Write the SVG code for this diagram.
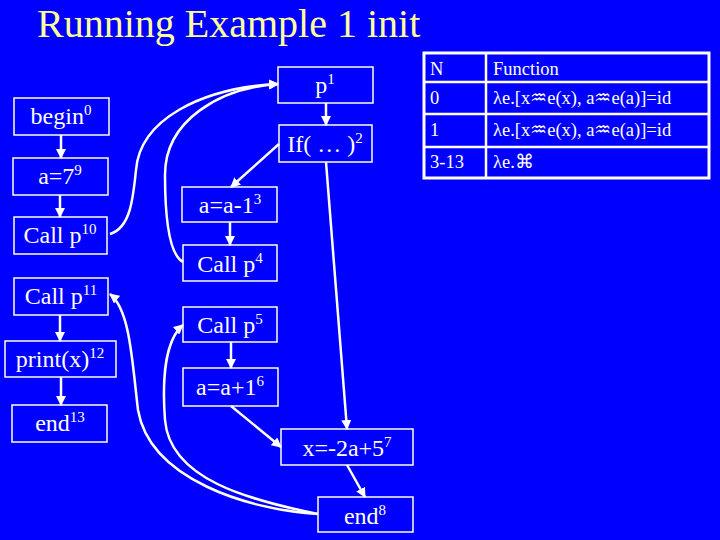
<svg xmlns="http://www.w3.org/2000/svg" width="720" height="540" viewBox="0 0 720 540">
<defs>
<style>
.bx{fill:#0000ff;stroke:#ffffff;stroke-width:1.5}
.t{font-family:"Liberation Serif","Times New Roman",serif;font-size:24px;fill:#ffffff;text-anchor:middle}
.s{font-size:15px}
.e{fill:none;stroke:#ffffff;stroke-width:2.5}
.tb{font-family:"Liberation Serif","Times New Roman",serif;font-size:18.5px;fill:#ffffff}
.ln{stroke:#ffffff;stroke-width:2.5}
</style>
<marker id="ah" viewBox="0 0 10 10" refX="9" refY="5" markerWidth="4" markerHeight="4" orient="auto" markerUnits="strokeWidth">
<path d="M0 0 L10 5 L0 10 z" fill="#ffffff"/>
</marker>
</defs>
<rect x="0" y="0" width="720" height="540" fill="#0000ff"/>
<text x="37" y="37" font-family="'Liberation Serif','Times New Roman',serif" font-size="40" fill="#ffff99">Running Example 1 init</text>

<g id="table">
<rect x="424" y="53" width="285" height="125" fill="#0000ff" stroke="#ffffff" stroke-width="3"/>
<line class="ln" x1="486" y1="53" x2="486" y2="178"/>
<line class="ln" x1="424" y1="82" x2="709" y2="82"/>
<line class="ln" x1="424" y1="114" x2="709" y2="114"/>
<line class="ln" x1="424" y1="147" x2="709" y2="147"/>
<text class="tb" x="430" y="75">N</text>
<text class="tb" x="493" y="75">Function</text>
<text class="tb" x="430" y="104">0</text>
<text class="tb" x="493" y="104">λe.[x♒&#xFE0E;e(x), a♒&#xFE0E;e(a)]=id</text>
<text class="tb" x="430" y="136">1</text>
<text class="tb" x="493" y="136">λe.[x♒&#xFE0E;e(x), a♒&#xFE0E;e(a)]=id</text>
<text class="tb" x="430" y="168">3-13</text>
<text class="tb" x="493" y="168">λe.⌘</text>
</g>

<g id="n-begin"><rect class="bx" x="14" y="98" width="95" height="37"/><text class="t" x="61" y="124">begin<tspan class="s" dy="-9">0</tspan></text></g>
<g id="n-a7"><rect class="bx" x="13" y="158" width="95" height="37"/><text class="t" x="60" y="184">a=7<tspan class="s" dy="-9">9</tspan></text></g>
<g id="n-callp10"><rect class="bx" x="14" y="217" width="93" height="37"/><text class="t" x="60" y="243">Call p<tspan class="s" dy="-9">10</tspan></text></g>
<g id="n-callp11"><rect class="bx" x="14" y="278" width="94" height="37"/><text class="t" x="61" y="304">Call p<tspan class="s" dy="-9">11</tspan></text></g>
<g id="n-print"><rect class="bx" x="5" y="341" width="111" height="36"/><text class="t" x="60" y="367">print(x)<tspan class="s" dy="-9">12</tspan></text></g>
<g id="n-end13"><rect class="bx" x="12" y="405" width="95" height="37"/><text class="t" x="60" y="431">end<tspan class="s" dy="-9">13</tspan></text></g>
<g id="n-p1"><rect class="bx" x="278" y="67" width="95" height="36"/><text class="t" x="325" y="93">p<tspan class="s" dy="-9">1</tspan></text></g>
<g id="n-if"><rect class="bx" x="279" y="125" width="93" height="37"/><text class="t" x="325" y="152">If( … )<tspan class="s" dy="-9">2</tspan></text></g>
<g id="n-asub"><rect class="bx" x="182" y="187" width="95" height="35"/><text class="t" x="230" y="213">a=a-1<tspan class="s" dy="-9">3</tspan></text></g>
<g id="n-callp4"><rect class="bx" x="183" y="245" width="94" height="36"/><text class="t" x="230" y="272">Call p<tspan class="s" dy="-9">4</tspan></text></g>
<g id="n-callp5"><rect class="bx" x="183" y="307" width="94" height="35"/><text class="t" x="230" y="333">Call p<tspan class="s" dy="-9">5</tspan></text></g>
<g id="n-aadd"><rect class="bx" x="183" y="368" width="95" height="38"/><text class="t" x="230" y="395">a=a+1<tspan class="s" dy="-9">6</tspan></text></g>
<g id="n-x"><rect class="bx" x="281" y="429" width="132" height="36"/><text class="t" x="347" y="456">x=-2a+5<tspan class="s" dy="-9">7</tspan></text></g>
<g id="n-end8"><rect class="bx" x="318" y="497" width="95" height="35"/><text class="t" x="365" y="524">end<tspan class="s" dy="-9">8</tspan></text></g>

<g id="edges">
<path class="e" d="M61 135 L61 158" marker-end="url(#ah)"/>
<path class="e" d="M60 195 L60 217" marker-end="url(#ah)"/>
<path class="e" d="M60 315 L60 341" marker-end="url(#ah)"/>
<path class="e" d="M61 377 L61 405" marker-end="url(#ah)"/>
<path class="e" d="M326 103 L326 125" marker-end="url(#ah)"/>
<path class="e" d="M279 144 L231 187" marker-end="url(#ah)"/>
<path class="e" d="M230 222 L230 245" marker-end="url(#ah)"/>
<path class="e" d="M231 342 L231 368" marker-end="url(#ah)"/>
<path class="e" d="M231 406 L281 447" marker-end="url(#ah)"/>
<path class="e" d="M326 162 L347 429" marker-end="url(#ah)"/>
<path class="e" d="M347 465 L365 497" marker-end="url(#ah)"/>
<path class="e" d="M110 234 C130 228 133 200 136 170 C140 120 200 88 278 84" marker-end="url(#ah)"/>
<path class="e" d="M183 262 C170 255 165 220 165 175 C165 120 220 88 278 84" marker-end="url(#ah)"/>
<path class="e" d="M318 514 C250 510 150 480 138 410 C132 360 130 310 110 294" marker-end="url(#ah)"/>
<path class="e" d="M318 514 C250 500 170 480 165 420 C162 380 165 340 183 325" marker-end="url(#ah)"/>
</g>
</svg>
